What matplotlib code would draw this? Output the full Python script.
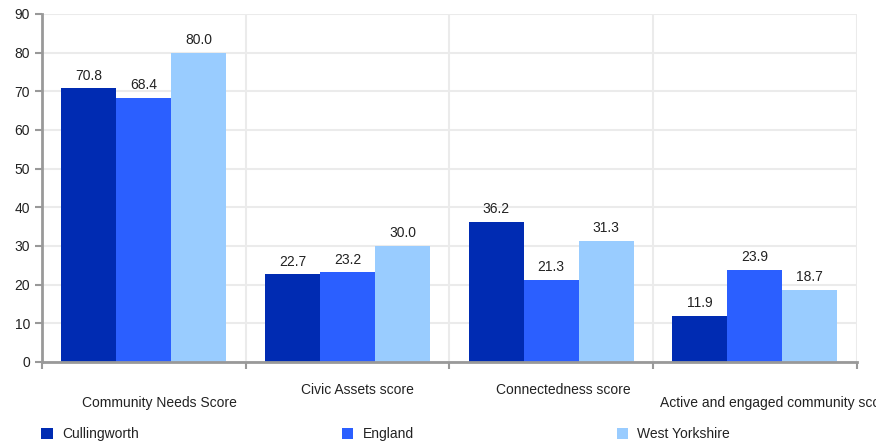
import numpy as np
import matplotlib
matplotlib.use("Agg")
import matplotlib.pyplot as plt
from matplotlib.transforms import blended_transform_factory, offset_copy

plt.rcParams['font.family'] = ['Liberation Sans', 'DejaVu Sans']

categories = ["Community Needs Score", "Civic Assets score",
              "Connectedness score", "Active and engaged community score"]
series = ["Cullingworth", "England", "West Yorkshire"]
cullingworth = [70.8, 22.7, 36.2, 11.9]
england = [68.4, 23.2, 21.3, 23.9]
west_yorkshire = [80.0, 30.0, 31.3, 18.7]
colors = ["#002BB2", "#2B5FFF", "#99CCFF"]

fig = plt.figure(figsize=(8.76, 4.44), dpi=100)
ax = fig.add_axes([0.048, 0.1847, 0.930, 0.7838])

x = np.arange(len(categories))
w = 0.27
vals = [cullingworth, england, west_yorkshire]
for i, (name, v, c) in enumerate(zip(series, vals, colors)):
    pos = x + (i - 1) * w
    bars = ax.bar(pos, v, width=w, color=c, label=name, zorder=3)
    for b, val in zip(bars, v):
        ax.annotate("%.1f" % val, (b.get_x() + b.get_width() / 2, val),
                    xytext=(0, 4), textcoords="offset points",
                    ha="center", va="bottom", fontsize=10, color="#222222")

ax.set_xlim(-0.5, len(categories) - 0.5)
ax.set_ylim(0, 90)
ax.set_yticks(np.arange(0, 91, 10))
ax.set_xticks(np.arange(len(categories) + 1) - 0.5)
ax.set_xticklabels([])
ax.tick_params(axis='y', labelsize=10, length=5, width=1.5, color="#999999", labelcolor="#222222")
ax.tick_params(axis='x', length=5, width=1.5, color="#999999")

ax.grid(True, color="#ebebeb", linewidth=1.5, zorder=0)
for s in ["top", "right"]:
    ax.spines[s].set_visible(False)
for s in ["left", "bottom"]:
    ax.spines[s].set_color("#999999")
    ax.spines[s].set_linewidth(2)
    ax.spines[s].set_zorder(4)

# staggered category labels: outer ones lower, inner ones higher
trans = blended_transform_factory(ax.transData, ax.transAxes)
yoff = [-41, -28, -28, -41]
xoff = [16, 10, 12, 21]
for i, cat in enumerate(categories):
    t = offset_copy(trans, fig=fig, x=xoff[i], y=yoff[i], units='dots')
    ax.text(i, 0, cat, transform=t, ha="center", va="center",
            fontsize=10, color="#222222", clip_on=False)

leg = fig.legend(loc="upper left", bbox_to_anchor=(0.041, 0.05), ncol=3,
                 frameon=False, fontsize=10, handlelength=0.8, handleheight=0.8,
                 handletextpad=0.7, columnspacing=14.6, borderaxespad=0)
for t in leg.get_texts():
    t.set_color("#222222")

fig.savefig("out.png", dpi=100)
